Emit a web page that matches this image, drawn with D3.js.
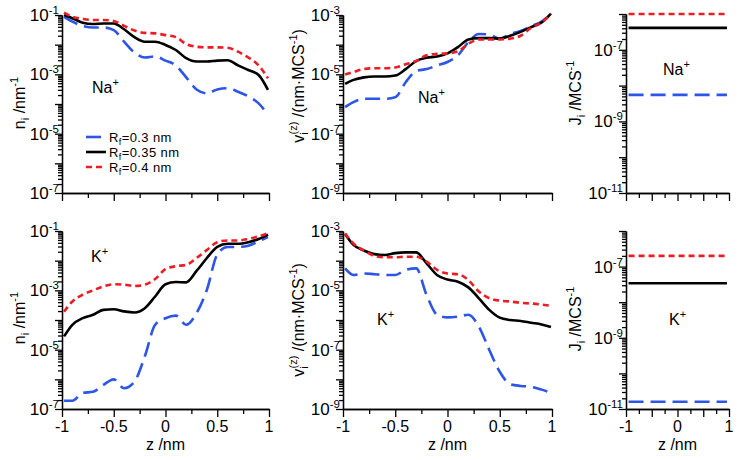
<!DOCTYPE html>
<html><head><meta charset="utf-8">
<script src="https://cdn.jsdelivr.net/npm/d3@7"></script>
<style>
html,body{margin:0;padding:0;background:#fff;}
svg{display:block;font-family:"Liberation Sans",Arial,sans-serif;}
</style></head><body>
<svg id="c" width="738" height="460"></svg>
<script>
// ---------- data ----------
const zPos = [-0.98,-0.9,-0.8,-0.7,-0.6,-0.5,-0.4,-0.3,-0.2,-0.1,0,0.1,0.2,0.3,0.4,0.5,0.6,0.7,0.8,0.9,0.99];
const fluxZ = [-0.95, 0.96];
const seriesLabels = ["0.3", "0.35", "0.4"];

// Na+ number density n_i (nm^-1)
const naDensity_03  = [0.087,0.060,0.043,0.038,0.038,0.031,0.0126,0.0054,0.0037,0.0040,0.0029,0.0020,0.00079,0.00031,0.00023,0.00031,0.00034,0.00026,0.00018,0.000105,0.000043];
const naDensity_035 = [0.10,0.078,0.055,0.050,0.052,0.052,0.033,0.018,0.0126,0.0126,0.0098,0.0066,0.0035,0.0027,0.0027,0.0029,0.0030,0.0020,0.0014,0.00095,0.00030];
const naDensity_04  = [0.12,0.087,0.074,0.068,0.068,0.063,0.043,0.030,0.025,0.024,0.021,0.018,0.0105,0.0085,0.0081,0.0081,0.0079,0.0058,0.0037,0.0020,0.00074];
// K+ number density
const kDensity_03  = [1.9e-7,1.9e-7,3.5e-7,3.8e-7,6.5e-7,1.0e-6,5.0e-7,8.3e-7,5.9e-6,6.9e-5,1.15e-4,1.4e-4,6.9e-5,1.7e-4,1.05e-3,1.6e-2,2.9e-2,2.9e-2,3.2e-2,4.5e-2,6.3e-2];
const kDensity_035 = [2.8e-5,6.9e-5,1.15e-4,1.5e-4,2.2e-4,2.3e-4,1.95e-4,1.8e-4,2.5e-4,6.2e-4,1.6e-3,1.9e-3,1.86e-3,4.5e-3,1.23e-2,2.9e-2,3.7e-2,3.7e-2,4.2e-2,5.4e-2,7.6e-2];
const kDensity_04  = [1.9e-4,4.2e-4,7.1e-4,1.0e-3,1.35e-3,1.6e-3,1.55e-3,1.4e-3,1.55e-3,2.4e-3,5.2e-3,6.5e-3,7.2e-3,1.23e-2,2.3e-2,4.2e-2,4.8e-2,4.8e-2,5.4e-2,6.6e-2,8.5e-2];
// Na+ velocity v_i^(z) (nm/MCS)
const naVelocity_03  = [7.8e-7,1.15e-6,1.5e-6,1.5e-6,1.5e-6,1.7e-6,5.4e-6,1.3e-5,1.5e-5,2.0e-5,2.6e-5,4.4e-5,1.23e-4,2.3e-4,2.2e-4,1.6e-4,2.3e-4,2.9e-4,4.2e-4,6.0e-4,1.12e-3];
const naVelocity_035 = [4.8e-6,6.5e-6,7.9e-6,8.5e-6,8.5e-6,9.1e-6,1.5e-5,2.8e-5,3.6e-5,4.0e-5,5.1e-5,8.3e-5,1.5e-4,1.66e-4,1.66e-4,1.6e-4,2.0e-4,2.7e-4,3.9e-4,5.6e-4,1.12e-3];
const naVelocity_04  = [9.8e-6,1.2e-5,1.5e-5,1.6e-5,1.6e-5,1.7e-5,2.2e-5,2.8e-5,4.4e-5,4.9e-5,5.1e-5,6.0e-5,1.07e-4,1.5e-4,1.5e-4,1.5e-4,1.6e-4,2.0e-4,3.7e-4,5.6e-4,1.12e-3];
// K+ velocity
const kVelocity_03  = [5.5e-5,3.3e-5,3.7e-5,3.5e-5,3.3e-5,3.3e-5,4.9e-5,5.5e-5,6.9e-6,1.5e-6,1.23e-6,1.3e-6,1.5e-6,6.0e-7,9.8e-8,1.8e-8,6.9e-9,6.0e-9,5.6e-9,4.5e-9,3.5e-9];
const kVelocity_035 = [7.9e-4,3.4e-4,2.2e-4,1.66e-4,1.55e-4,1.8e-4,1.9e-4,1.9e-4,8.1e-5,3.3e-5,2.3e-5,1.95e-5,1.26e-5,5.4e-6,2.2e-6,1.2e-6,1.0e-6,9.3e-7,8.1e-7,7.1e-7,5.8e-7];
const kVelocity_04  = [8.3e-4,3.8e-4,2.2e-4,1.45e-4,1.3e-4,1.3e-4,1.35e-4,1.35e-4,9.3e-5,4.9e-5,3.7e-5,3.5e-5,2.2e-5,9.1e-6,5.4e-6,4.5e-6,4.2e-6,3.8e-6,3.6e-6,3.3e-6,3.0e-6];
// Flux J_i (MCS^-1), constant along z: [R=0.3, 0.35, 0.4]
const naFlux = [5.5e-9, 4.1e-7, 1.0e-6];
const kFlux  = [1.6e-11, 3.4e-8, 2.0e-7];

const xTickLabelsWide = [-1,-0.5,0,0.5,1];
const xTickLabelsNarrow = [-1,0,1];

// ---------- styles ----------
const colors = ["#2d55e6", "#000000", "#ec1c24"];
const dashes = ["15,7", null, "6,4"];
const FONT = 16, SMALL = 11;

const svg = d3.select("#c");

function richText(g, parts, size, small) {
  small = small || SMALL;
  const t = g.append("text").attr("font-size", size).attr("fill", "#000");
  let shift = 0;
  parts.forEach(p => {
    const ts = t.append("tspan").text(p.t);
    let target = 0;
    if (p.sub) { ts.attr("font-size", small); target = 4; }
    if (p.sup) { ts.attr("font-size", small); target = -7; }
    if (p.supOver) { ts.attr("font-size", small); target = -7; ts.attr("dx", p.dx); }
    ts.attr("dy", target - shift);
    shift = target;
  });
  return t;
}

const panels = [
  {x:[62,269], y:[193,15], dom:[1e-7,1e-1], lab:[1e-1,1e-3,1e-5,1e-7], data:[naDensity_03,naDensity_035,naDensity_04], ion:"Na", ionAt:[92,93], xl:null, title:"n", titleAt:[25,103]},
  {x:[343,552], y:[193,15], dom:[1e-9,1e-3], lab:[1e-3,1e-5,1e-7,1e-9], data:[naVelocity_03,naVelocity_035,naVelocity_04], ion:"Na", ionAt:[418,103], xl:null, title:"v", titleAt:[304,86]},
  {x:[626,729], y:[193,14], dom:[1e-11,1e-6], lab:[1e-7,1e-9,1e-11], flux:naFlux, ion:"Na", ionAt:[663,75], xl:null, title:"J", titleAt:[581,93]},
  {x:[62,269], y:[409,231], dom:[1e-7,1e-1], lab:[1e-1,1e-3,1e-5,1e-7], data:[kDensity_03,kDensity_035,kDensity_04], ion:"K", ionAt:[91,262], xl:xTickLabelsWide, title:"n", titleAt:[25,318]},
  {x:[343,552], y:[409,231], dom:[1e-9,1e-3], lab:[1e-3,1e-5,1e-7,1e-9], data:[kVelocity_03,kVelocity_035,kVelocity_04], ion:"K", ionAt:[377,325], xl:xTickLabelsWide, title:"v", titleAt:[304,320]},
  {x:[626,729], y:[409,231], dom:[1e-11,1e-6], lab:[1e-7,1e-9,1e-11], flux:kFlux, ion:"K", ionAt:[669,325], xl:xTickLabelsNarrow, title:"J", titleAt:[581,319]},
];

panels.forEach(p => {
  const xs = d3.scaleLinear().domain([-1,1]).range(p.x);
  const ys = d3.scaleLog().domain(p.dom).range(p.y);
  const g = svg.append("g");

  const lo = Math.round(Math.log10(p.dom[0])), hi = Math.round(Math.log10(p.dom[1]));
  const majors = d3.range(lo, hi + 1).map(e => Math.pow(10, e));
  const minors = [];
  for (let e = lo; e < hi; e++) for (let m = 2; m <= 9; m++) minors.push(m * Math.pow(10, e));

  const yMinor = g.append("g").attr("transform", `translate(${p.x[0]},0)`)
    .call(d3.axisLeft(ys).tickValues(minors).tickSize(4).tickSizeOuter(0).tickFormat(""));
  const yMajor = g.append("g").attr("transform", `translate(${p.x[0]},0)`)
    .call(d3.axisLeft(ys).tickValues(majors).tickSize(7).tickSizeOuter(0).tickFormat(""));

  const xMinorVals = [-0.75,-0.25,0.25,0.75];
  const xMajorVals = [-1,-0.5,0,0.5,1];
  const xMinor = g.append("g").attr("transform", `translate(0,${p.y[0]})`)
    .call(d3.axisBottom(xs).tickValues(xMinorVals).tickSize(5).tickSizeOuter(0).tickFormat(""));
  const xMajor = g.append("g").attr("transform", `translate(0,${p.y[0]})`)
    .call(d3.axisBottom(xs).tickValues(xMajorVals).tickSize(8).tickSizeOuter(0).tickFormat(""));
  [yMinor,yMajor,xMinor,xMajor].forEach(a => {
    a.selectAll("path,line").attr("stroke","#000").attr("stroke-width",1.3);
  });

  // y tick labels
  p.lab.forEach(v => {
    const e = Math.round(Math.log10(v));
    richText(g, [{t:"10"},{t:String(e),sup:true}], 17, 11.5)
      .attr("x", p.x[0] - 3).attr("y", ys(v) + 6).attr("text-anchor", "end");
  });

  // x tick labels + title
  if (p.xl) {
    p.xl.forEach(v => {
      g.append("text").attr("x", xs(v)).attr("y", 432).attr("text-anchor","middle")
        .attr("font-size", FONT).text(String(v));
    });
    g.append("text").attr("x", (p.x[0]+p.x[1])/2).attr("y", 450).attr("text-anchor","middle")
      .attr("font-size", FONT).text("z /nm");
  }

  // y title
  let parts;
  if (p.title === "n") parts = [{t:"n"},{t:"i",sub:true},{t:" /nm"},{t:"-1",sup:true}];
  else if (p.title === "v") parts = [{t:"v"},{t:"i",sub:true},{t:"(z)",supOver:true,dx:-2},{t:" /(nm·MCS"},{t:"-1",sup:true},{t:")"}];
  else parts = [{t:"J"},{t:"i",sub:true},{t:" /MCS"},{t:"-1",sup:true}];
  richText(g, parts, FONT).attr("text-anchor","middle")
    .attr("transform", `translate(${p.titleAt[0]},${p.titleAt[1]}) rotate(-90)`);

  // ion label
  richText(g, [{t:p.ion},{t:"+",sup:true}], FONT).attr("x", p.ionAt[0]).attr("y", p.ionAt[1]);

  // data lines
  const line = d3.line().x(d => xs(d[0])).y(d => ys(d[1])).curve(d3.curveMonotoneX);
  [0,1,2].forEach(i => {
    let pts;
    if (p.flux) pts = fluxZ.map(zz => [zz, p.flux[i]]);
    else pts = zPos.map((zz, k) => [zz, p.data[i][k]]);
    g.append("path").attr("d", line(pts)).attr("fill","none")
      .attr("stroke", colors[i]).attr("stroke-width", 2.6)
      .attr("stroke-dasharray", dashes[i]);
  });
});

// legend (top-left panel)
const legY = [137, 152, 167];
seriesLabels.forEach((s, i) => {
  svg.append("line").attr("x1", 86).attr("x2", 106).attr("y1", legY[i]).attr("y2", legY[i])
    .attr("stroke", colors[i]).attr("stroke-width", 2.6).attr("stroke-dasharray", dashes[i]);
  const t = svg.append("text").attr("x", 109).attr("y", legY[i] + 4.5).attr("font-size", 13)
    .attr("letter-spacing", 0.4);
  t.append("tspan").text("R");
  t.append("tspan").attr("font-size", 9).attr("dy", 3).text("f");
  t.append("tspan").attr("dy", -3).text("=" + s + " nm");
});
</script>
</body></html>
